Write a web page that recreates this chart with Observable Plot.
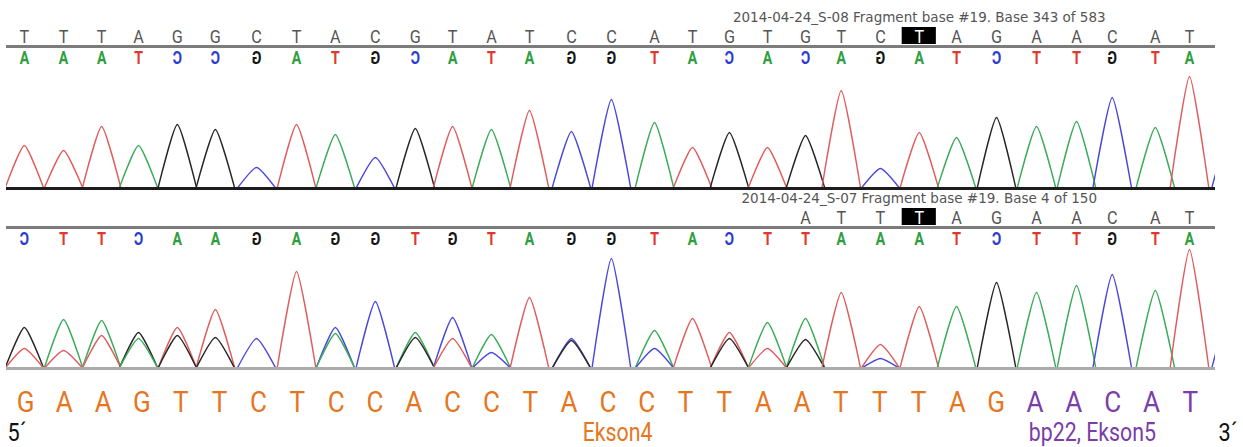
<!DOCTYPE html>
<html>
<head>
<meta charset="utf-8">
<script src="https://cdn.jsdelivr.net/npm/d3@7"></script>
<script src="https://cdn.jsdelivr.net/npm/@observablehq/plot@0.6"></script>
<style>
  html, body { margin: 0; padding: 0; background: #fff; }
  #chart svg { display: block; }
</style>
</head>
<body>
<div id="chart"></div>
<script>
// ---------------- DATA ----------------
// Base calls shown above each trace (top row) and the mirrored complementary row
const readTop1    = "T T T A G G C T A C G T A T C C A T G T G T C T A G A A C A T".split(" ");
const readBottom1 = "A A A T C C G A T G C A T A G G T A C A C A G A T C T T G T A".split(" ");
const readTop2    = ". . . . . . . . . . . . . . . . . . . . A T T T A G A A C A T".split(" ");
const readBottom2 = "C T T C A A G A G G T G T A G G T A C T T A A A T C T T G T A".split(" ");
// Reference sequence written under the chromatograms
const refSeq      = "G A A G T T C T C C A C C T A C C T T A A T T T A G A A C A T".split(" ");
const exon5Start  = 26;          // first base of Ekson5 in refSeq
const exonLabels  = ["Ekson4", "bp22, Ekson5"];
const exonLabelAt = [15.25, 27.48];
const endLabels   = ["5´", "3´"];
const titles = [
  "2014-04-24_S-08 Fragment base #19. Base 343 of 583",
  "2014-04-24_S-07 Fragment base #19. Base 4 of 150"
];
const cursor = 23;               // highlighted base
// Scan position of each called base (in base units)
const tracePos = [-0.03, 0.98, 1.96, 2.91, 3.91, 4.89, 5.95, 6.98, 7.98, 9.01,
  10.04, 11.0, 12.0, 12.98, 14.06, 15.09, 16.2, 17.18, 18.13, 19.11,
  20.09, 21.01, 22.02, 23.02, 23.98, 25.01, 26.04, 27.07, 27.99, 29.1, 29.98, 31.05];
// Peaks: [base position index, channel, signal height]
const peaks1 = [
  [0,"T",43],[1,"T",38],[2,"T",62],[3,"A",43],[4,"G",64],[5,"G",59],[6,"C",21],
  [7,"T",64],[8,"A",54],[9,"C",31],[10,"G",60],[11,"T",62],[12,"A",59],[13,"T",78],
  [14,"C",57],[15,"C",89],[16,"A",66],[17,"T",41],[18,"G",56],[19,"T",41],[20,"G",53],
  [21,"T",98],[22,"C",20],[23,"T",56],[24,"A",51],[25,"G",71],[26,"A",62],[27,"A",67],
  [28,"C",91],[29,"A",61],[30,"T",112],[31,"C",60]
];
const peaks2 = [
  [0,"G",41],[0,"T",20],[1,"A",49],[1,"T",18],[2,"A",48],[2,"T",33],
  [3,"G",36],[3,"A",30],[4,"T",41],[4,"G",33],[5,"T",59],[5,"G",31],
  [6,"C",30],[7,"T",97],[8,"C",41],[8,"A",35],[9,"C",67],[10,"A",36],[10,"G",31],
  [11,"C",51],[11,"T",30],[12,"A",34],[12,"C",16],[13,"T",71],[14,"C",30],[14,"G",28],
  [15,"C",110],[16,"A",38],[16,"C",20],[17,"T",50],[18,"T",36],[18,"G",30],
  [19,"A",46],[19,"T",20],[20,"A",50],[20,"G",29],[21,"T",76],[22,"T",24],[22,"C",10],
  [23,"T",62],[24,"A",62],[25,"G",86],[26,"A",76],[27,"A",83],[28,"C",94],
  [29,"A",78],[30,"T",119],[31,"C",60]
];

// ---------------- STYLE ----------------
const traceColor  = {A: "#3aab58", C: "#4848dc", G: "#262626", T: "#e05c5c"};
const letterColor = {A: "#2e9e40", C: "#2b3bd0", G: "#151515", T: "#e0382e"};
const orange = "#e6761e", purple = "#7a3daa";
const sans = "Roboto, 'Liberation Sans', Arial, sans-serif";
const W = 1243;
const xDomain = [-0.49, 30.65];
const mL = 6, mR = 28;
const peakHalfWidth = 0.5;

function panel({height, marginTop, peaks, top, bottom, title, baseStroke}) {
  const marginBottom = 2;
  const plotH = height - marginTop - marginBottom;
  const pts = peaks.flatMap(([i, b, h], k) => [
    {k, b, x: tracePos[i] - peakHalfWidth, y: 0},
    {k, b, x: tracePos[i], y: h},
    {k, b, x: tracePos[i] + peakHalfWidth, y: 0}
  ]);
  const idx = d3.range(top.length);
  const topIdx = idx.filter(i => top[i] !== ".");
  return Plot.plot({
    width: W, height, marginTop, marginBottom, marginLeft: mL, marginRight: mR,
    x: {domain: xDomain, axis: null},
    y: {domain: [0, plotH], axis: null},
    color: {type: "identity"},
    style: {background: "#fff", overflow: "visible"},
    marks: [
      Plot.ruleY([plotH], {stroke: "#7c7c7c", strokeWidth: 3}),
      Plot.line(pts, {x: "x", y: "y", z: "k", stroke: d => traceColor[d.b], strokeWidth: 1.4,
        curve: "cardinal", tension: 0.45, clip: true}),
      Plot.ruleY([0], {stroke: baseStroke, strokeWidth: 3}),
      Plot.rect([cursor], {x1: i => tracePos[i] - 0.44, x2: i => tracePos[i] + 0.44, fill: "#000",
        insetTop: -19, insetBottom: plotH + 2}),
      Plot.text(topIdx, {x: i => tracePos[i], text: i => top[i], frameAnchor: "top", lineAnchor: "middle", dy: -9,
        fill: i => i === cursor ? "#fff" : "#555", fontSize: 18, fontFamily: sans}),
      Plot.text(idx, {x: i => tracePos[i], text: i => bottom[i], frameAnchor: "top", lineAnchor: "middle", dy: 11,
        fill: i => letterColor[bottom[i]], fontSize: 19, fontWeight: "bold", fontFamily: sans}),
      Plot.text([title], {x: () => tracePos[cursor], text: d => d, frameAnchor: "top", lineAnchor: "middle", dy: -29,
        fill: "#555", fontSize: 13.5, fontFamily: "'DejaVu Sans', sans-serif"})
    ]
  });
}

// append an extra scale to each text of the selected marks (mirror / condense glyphs in place)
function reshape(svg, selector, sx) {
  svg.querySelectorAll(selector + " text").forEach(t => {
    const tr = t.getAttribute("transform");
    if (tr) t.setAttribute("transform", `${tr} scale(${sx},1)`);
    else {
      const x = +t.getAttribute("x") || 0;
      t.setAttribute("x", 0);
      t.setAttribute("transform", `translate(${x},0) scale(${sx},1)`);
    }
  });
}

const chart = document.getElementById("chart");
const p1 = panel({height: 190, marginTop: 46, peaks: peaks1, top: readTop1, bottom: readBottom1, title: titles[0], baseStroke: "#1c1c1c"});
const p2 = panel({height: 180, marginTop: 37, peaks: peaks2, top: readTop2, bottom: readBottom2, title: titles[1], baseStroke: "#ababab"});
for (const p of [p1, p2]) {
  reshape(p, 'g[font-weight="bold"]', -0.75);   // complementary row is drawn mirrored
  reshape(p, 'g[font-size="18"]', 0.9);
}
chart.append(p1, p2);

const seqIdx = d3.range(refSeq.length);
const bottomPlot = Plot.plot({
  width: W, height: 77, marginTop: 0, marginBottom: 0, marginLeft: mL, marginRight: mR,
  x: {domain: xDomain, axis: null},
  color: {type: "identity"},
  style: {background: "#fff", overflow: "visible"},
  marks: [
    Plot.text(seqIdx, {x: i => i, text: i => refSeq[i], frameAnchor: "top", lineAnchor: "middle", dy: 32,
      fill: i => i < exon5Start ? orange : purple, fontSize: 29, fontFamily: sans}),
    Plot.text([0, 1], {x: i => exonLabelAt[i], text: i => exonLabels[i], frameAnchor: "top", lineAnchor: "middle", dy: 62,
      fill: i => i === 0 ? orange : purple, fontSize: 26, fontFamily: sans}),
    Plot.text([endLabels[0]], {text: d => d, frameAnchor: "top-left", lineAnchor: "middle", dx: 1, dy: 62, textAnchor: "start",
      fill: "#111", fontSize: 25.5, fontFamily: sans}),
    Plot.text([endLabels[1]], {text: d => d, frameAnchor: "top-right", lineAnchor: "middle", dx: 3, dy: 62, textAnchor: "start",
      fill: "#111", fontSize: 25.5, fontFamily: sans})
  ]
});
reshape(bottomPlot, 'g[font-size="29"]', 0.9);
reshape(bottomPlot, 'g[font-size="26"]', 0.82);
reshape(bottomPlot, 'g[font-size="25.5"]', 0.85);
chart.append(bottomPlot);
</script>
</body>
</html>
